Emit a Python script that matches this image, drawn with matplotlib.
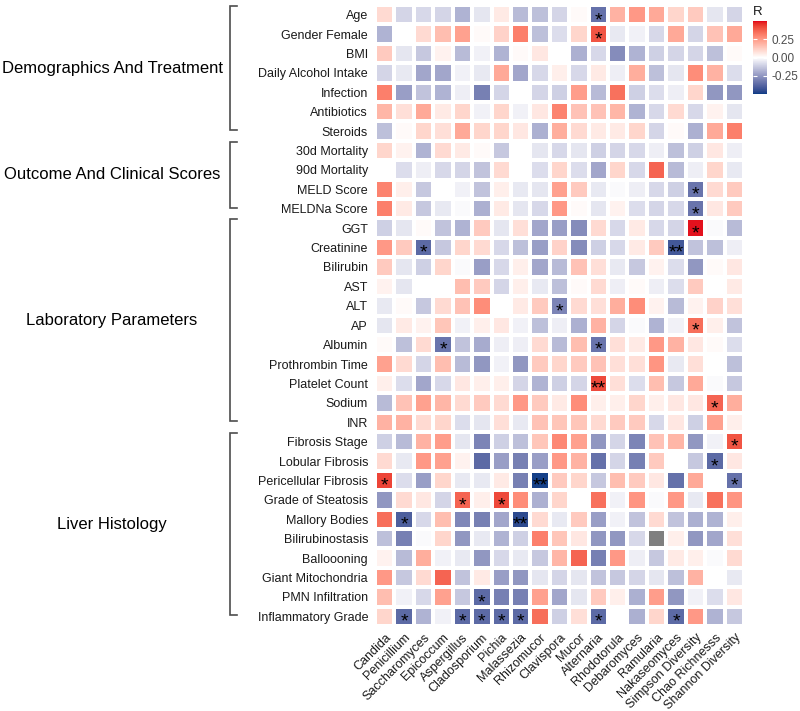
import numpy as np
import matplotlib
matplotlib.use("Agg")
import matplotlib.pyplot as plt
from matplotlib.colors import ListedColormap, Normalize
from matplotlib.transforms import blended_transform_factory

plt.rcParams['font.family'] = ['Liberation Sans', 'DejaVu Sans']

# ---------------- data ----------------
columns = ["Candida", "Penicillium", "Saccharomyces", "Epicoccum", "Aspergillus",
           "Cladosporium", "Pichia", "Malassezia", "Rhizomucor", "Clavispora", "Mucor",
           "Alternaria", "Rhodotorula", "Debaromyces", "Ramularia", "Nakaseomyces",
           "Simpson Diversity", "Chao Richnesss", "Shannon Diversity"]

group_names = ["Demographics And Treatment", "Outcome And Clinical Scores",
               "Laboratory Parameters", "Liver Histology"]

demographics_rows = ["Age", "Gender Female", "BMI", "Daily Alcohol Intake", "Infection",
                     "Antibiotics", "Steroids"]
demographics_vals = [
    [0.09, -0.10, -0.09, -0.10, -0.18, -0.06, 0.05, -0.16, -0.15, -0.10, 0.01, -0.35, 0.19, 0.25, 0.21, 0.10, 0.13, -0.06, -0.10],
    [-0.18, 0.00, 0.09, 0.16, 0.23, 0.01, 0.11, 0.31, -0.15, -0.08, 0.10, 0.40, -0.05, -0.03, -0.09, 0.21, -0.10, 0.15, 0.21],
    [0.13, -0.06, -0.13, 0.03, -0.16, -0.03, -0.18, 0.01, 0.06, 0.00, -0.19, -0.09, -0.28, -0.18, -0.11, -0.10, -0.10, -0.15, 0.01],
    [-0.10, -0.05, -0.21, -0.21, -0.03, -0.05, 0.21, -0.21, -0.09, 0.04, -0.09, 0.05, -0.04, 0.20, -0.15, -0.06, 0.28, 0.19, -0.08],
    [0.31, -0.23, -0.14, -0.18, -0.04, -0.31, -0.10, 0.00, -0.10, -0.11, 0.24, -0.16, 0.34, -0.11, -0.08, -0.04, 0.10, -0.25, -0.25],
    [0.18, 0.08, 0.21, 0.05, 0.10, -0.03, 0.10, -0.03, 0.06, 0.30, 0.15, 0.15, 0.18, -0.18, -0.09, 0.09, -0.09, 0.03, -0.06],
    [-0.15, 0.01, 0.10, 0.08, 0.21, 0.10, 0.10, 0.06, -0.19, 0.20, 0.09, 0.05, 0.05, 0.10, -0.10, 0.01, -0.19, 0.21, 0.31],
]

outcome_rows = ["30d Mortality", "90d Mortality", "MELD Score", "MELDNa Score"]
outcome_vals = [
    [0.10, 0.03, -0.18, 0.09, 0.05, 0.01, -0.13, 0.00, -0.06, -0.09, -0.06, -0.11, -0.10, -0.09, -0.04, -0.15, -0.11, 0.06, -0.04],
    [0.00, -0.08, -0.04, -0.09, -0.10, -0.14, 0.09, 0.00, -0.08, 0.10, -0.08, -0.21, 0.10, -0.09, 0.37, -0.16, -0.04, 0.10, -0.05],
    [0.30, 0.04, -0.13, 0.00, -0.03, -0.14, 0.04, -0.05, -0.06, 0.23, 0.13, -0.05, -0.01, -0.04, -0.09, -0.11, -0.34, 0.09, 0.13],
    [0.31, 0.05, -0.13, -0.05, -0.01, -0.19, 0.05, -0.06, -0.09, 0.25, 0.01, -0.06, 0.03, -0.08, -0.10, -0.09, -0.34, 0.06, 0.13],
]

lab_rows = ["GGT", "Creatinine", "Bilirubin", "AST", "ALT", "AP", "Albumin",
            "Prothrombin Time", "Platelet Count", "Sodium", "INR"]
lab_vals = [
    [-0.11, -0.06, 0.01, -0.14, -0.18, 0.13, -0.06, 0.08, -0.21, -0.23, -0.28, 0.09, -0.09, 0.05, -0.09, -0.10, 0.49, -0.01, -0.16],
    [0.25, 0.13, -0.37, -0.13, 0.10, 0.09, -0.09, -0.15, -0.23, 0.11, -0.28, -0.11, -0.09, 0.05, 0.13, -0.42, -0.14, -0.15, -0.04],
    [0.13, -0.06, -0.11, 0.10, -0.01, -0.23, -0.09, 0.04, -0.21, -0.16, 0.15, 0.08, -0.05, -0.13, 0.03, -0.08, -0.25, 0.01, 0.06],
    [0.03, -0.06, 0.00, 0.00, 0.16, 0.13, -0.10, 0.04, -0.05, -0.15, 0.01, 0.09, -0.04, 0.01, -0.04, -0.08, 0.13, 0.00, 0.05],
    [-0.05, 0.01, -0.13, 0.09, 0.15, 0.28, 0.00, 0.05, 0.13, -0.30, 0.09, 0.08, 0.20, 0.28, 0.03, -0.16, 0.03, 0.11, 0.08],
    [-0.06, 0.05, 0.03, 0.14, -0.03, 0.04, 0.06, -0.03, -0.15, -0.04, -0.19, 0.19, -0.10, -0.01, -0.18, -0.03, 0.35, 0.04, -0.14],
    [0.01, -0.15, 0.09, -0.34, -0.14, -0.20, -0.04, -0.04, 0.09, -0.16, 0.16, -0.34, 0.08, 0.05, 0.25, 0.19, 0.06, 0.01, -0.08],
    [0.23, 0.09, -0.10, 0.16, -0.16, -0.25, -0.03, -0.25, 0.13, 0.10, 0.13, 0.15, 0.08, 0.08, 0.26, -0.05, 0.08, 0.00, -0.15],
    [0.04, -0.08, -0.21, -0.09, 0.06, 0.04, 0.04, -0.10, -0.18, -0.11, -0.10, 0.42, 0.08, -0.08, 0.16, -0.13, 0.21, -0.01, -0.13],
    [-0.16, 0.15, 0.23, 0.18, 0.09, 0.13, 0.09, 0.25, 0.13, 0.05, 0.28, 0.04, 0.04, 0.10, 0.04, 0.06, 0.06, 0.37, 0.20],
    [0.19, 0.19, 0.09, 0.10, -0.08, -0.06, 0.08, -0.05, 0.15, 0.14, 0.14, 0.09, 0.13, 0.13, -0.09, 0.06, -0.11, 0.23, 0.04],
]

histology_rows = ["Fibrosis Stage", "Lobular Fibrosis", "Pericellular Fibrosis",
                  "Grade of Steatosis", "Mallory Bodies", "Bilirubinostasis", "Balloooning",
                  "Giant Mitochondria", "PMN Infiltration", "Inflammatory Grade"]
histology_vals = [
    [-0.11, -0.16, 0.19, 0.24, -0.06, -0.30, -0.11, -0.15, 0.14, 0.29, 0.23, -0.25, -0.10, -0.30, 0.15, 0.18, -0.25, -0.03, 0.40],
    [0.09, -0.05, 0.25, 0.23, 0.03, -0.37, -0.23, -0.31, -0.23, 0.25, 0.19, -0.35, -0.10, -0.31, 0.13, 0.00, -0.13, -0.37, 0.06],
    [0.43, -0.08, -0.23, 0.10, -0.05, -0.05, 0.05, -0.31, -0.49, 0.13, 0.10, -0.13, 0.16, 0.13, 0.06, -0.35, 0.21, 0.00, -0.35],
    [-0.25, 0.09, 0.06, -0.10, 0.37, 0.04, 0.42, 0.28, -0.19, 0.10, 0.00, 0.34, -0.03, 0.26, -0.01, 0.25, -0.05, 0.34, 0.26],
    [0.35, -0.40, -0.09, 0.16, -0.29, -0.31, -0.21, -0.46, 0.09, -0.05, 0.13, -0.23, -0.03, -0.14, 0.09, -0.14, -0.19, -0.18, 0.04],
    [-0.15, -0.31, -0.01, 0.10, -0.25, -0.05, -0.18, -0.11, 0.31, 0.14, 0.06, -0.25, -0.25, -0.09, np.nan, 0.04, -0.25, -0.21, 0.08],
    [0.03, -0.16, 0.20, -0.03, -0.05, -0.25, -0.09, -0.05, -0.13, 0.18, 0.37, -0.31, 0.25, -0.04, -0.13, 0.05, 0.04, -0.01, 0.09],
    [0.25, -0.13, 0.09, 0.37, -0.14, 0.05, -0.23, -0.25, -0.06, -0.10, -0.06, -0.14, -0.13, -0.10, -0.06, -0.15, 0.19, 0.00, -0.05],
    [0.16, -0.03, -0.09, 0.23, -0.13, -0.37, -0.31, -0.31, 0.23, -0.21, -0.06, 0.13, 0.04, -0.19, 0.24, -0.25, -0.03, -0.08, 0.06],
    [0.10, -0.37, -0.18, -0.03, -0.37, -0.37, -0.37, -0.37, 0.35, -0.11, 0.08, -0.37, 0.00, -0.19, 0.10, -0.37, 0.25, -0.18, -0.13],
]

# significance marks: (row, column, label)
significance = [
    ("Age", "Alternaria", "*"), ("Gender Female", "Alternaria", "*"),
    ("MELD Score", "Simpson Diversity", "*"), ("MELDNa Score", "Simpson Diversity", "*"),
    ("GGT", "Simpson Diversity", "*"), ("Creatinine", "Saccharomyces", "*"),
    ("Creatinine", "Nakaseomyces", "**"), ("ALT", "Clavispora", "*"),
    ("AP", "Simpson Diversity", "*"), ("Albumin", "Epicoccum", "*"),
    ("Albumin", "Alternaria", "*"), ("Platelet Count", "Alternaria", "**"),
    ("Sodium", "Chao Richnesss", "*"), ("Fibrosis Stage", "Shannon Diversity", "*"),
    ("Lobular Fibrosis", "Chao Richnesss", "*"), ("Pericellular Fibrosis", "Candida", "*"),
    ("Pericellular Fibrosis", "Rhizomucor", "**"), ("Pericellular Fibrosis", "Shannon Diversity", "*"),
    ("Grade of Steatosis", "Aspergillus", "*"), ("Grade of Steatosis", "Pichia", "*"),
    ("Mallory Bodies", "Penicillium", "*"), ("Mallory Bodies", "Malassezia", "**"),
    ("PMN Infiltration", "Cladosporium", "*"),
    ("Inflammatory Grade", "Penicillium", "*"), ("Inflammatory Grade", "Aspergillus", "*"),
    ("Inflammatory Grade", "Cladosporium", "*"), ("Inflammatory Grade", "Pichia", "*"),
    ("Inflammatory Grade", "Malassezia", "*"), ("Inflammatory Grade", "Alternaria", "*"),
    ("Inflammatory Grade", "Nakaseomyces", "*"),
]

colorbar_ticks = [-0.25, 0.0, 0.25]
colorbar_ticklabels = ["-0.25", "0.00", "0.25"]

# ---------------- assemble ----------------
groups = [demographics_rows, outcome_rows, lab_rows, histology_rows]
rows = demographics_rows + outcome_rows + lab_rows + histology_rows
values = np.array(demographics_vals + outcome_vals + lab_vals + histology_vals, dtype=float)
nrow, ncol = values.shape

# ggplot-like gradient2 (interpolated in Lab)
_M = np.array([[0.4124564, 0.3575761, 0.1804375],
               [0.2126729, 0.7151522, 0.0721750],
               [0.0193339, 0.1191920, 0.9503041]])
_WP = np.array([0.95047, 1.0, 1.08883])


def _to_lin(c):
    return np.where(c <= 0.04045, c / 12.92, ((c + 0.055) / 1.055) ** 2.4)


def _from_lin(c):
    c = np.clip(c, 0, None)
    return np.where(c <= 0.0031308, 12.92 * c, 1.055 * np.power(c, 1 / 2.4) - 0.055)


def hex2lab(h):
    rgb = np.array([int(h[i:i + 2], 16) / 255 for i in (1, 3, 5)])
    xyz = _M @ _to_lin(rgb) / _WP
    f = np.where(xyz > 0.008856, np.cbrt(xyz), 7.787 * xyz + 16 / 116)
    return np.array([116 * f[1] - 16, 500 * (f[0] - f[1]), 200 * (f[1] - f[2])])


def lab2rgb(lab):
    L, a, b = lab[:, 0], lab[:, 1], lab[:, 2]
    fy = (L + 16) / 116
    fx = fy + a / 500
    fz = fy - b / 200
    f = np.stack([fx, fy, fz], axis=1)
    xyz = np.where(f ** 3 > 0.008856, f ** 3, (f - 16 / 116) / 7.787) * _WP
    lin = xyz @ np.linalg.inv(_M).T
    return np.clip(_from_lin(lin), 0, 1)


low, mid, high = hex2lab("#0B3D86"), hex2lab("#FFFFFF"), hex2lab("#E2001A")
t = np.linspace(0, 1, 128)[:, None]
labs = np.vstack([low + (mid - low) * t, mid + (high - mid) * t[1:]])
cmap = ListedColormap(lab2rgb(labs))
cmap.set_bad("#7F7F7F")
norm = Normalize(vmin=-0.5, vmax=0.5)

W, H = 800, 711
fig = plt.figure(figsize=(W / 100, H / 100), dpi=100)
fig.patch.set_facecolor("white")
ax = fig.add_axes([375 / W, 1 - 626 / H, 369 / W, 621 / H])

data = np.ma.masked_invalid(values)
mesh = ax.pcolormesh(np.arange(ncol + 1) - 0.5, np.arange(nrow + 1) - 0.5, data,
                     cmap=cmap, norm=norm, edgecolors="white", linewidth=1.5)
ax.set_xlim(-0.5, ncol - 0.5)
ax.set_ylim(nrow - 0.5, -0.5)
for s in ax.spines.values():
    s.set_visible(False)

ax.set_yticks(range(nrow))
ax.set_yticklabels(rows, fontsize=9, color="#1a1a1a")
ax.set_xticks(range(ncol))
ax.set_xticklabels(columns, fontsize=9, color="#1a1a1a", rotation=45, ha="right",
                   va="top", rotation_mode="anchor")
ax.tick_params(axis="both", length=0)
ax.tick_params(axis="y", pad=5)
ax.tick_params(axis="x", pad=4)

for r, c, lab in significance:
    ax.text(columns.index(c), rows.index(r) + 0.3, lab, ha="center", va="center",
            fontsize=14, color="black")

# brackets and group labels
tr = blended_transform_factory(fig.transFigure, ax.transData)
start = 0
for name, g in zip(group_names, groups):
    first, last = start, start + len(g) - 1
    top, bot = first - 0.45, last - 0.05
    xb, xt = 230 / W, 237 / W
    ax.plot([xt, xb, xb, xt], [top, top, bot, bot], transform=tr, clip_on=False,
            color="#4d4d4d", lw=1.2, solid_joinstyle="miter")
    ax.text(112 / W, (top + bot) / 2, name, transform=tr, ha="center", va="center",
            fontsize=12, color="black")
    start += len(g)

# colorbar
cax = fig.add_axes([753 / W, 1 - 94 / H, 14 / W, 73 / H])
cb = fig.colorbar(mesh, cax=cax, ticks=colorbar_ticks)
cb.ax.set_yticklabels(colorbar_ticklabels)
cb.outline.set_visible(False)
cax.tick_params(axis="y", direction="in", length=3, width=0.8, color="white",
                left=True, right=True, labelsize=8.5, labelcolor="#4d4d4d", pad=3)
fig.text(753 / W, 1 - 12 / H, "R", fontsize=9.5, va="center", ha="left", color="#1a1a1a")

fig.savefig("out.png", dpi=100)
